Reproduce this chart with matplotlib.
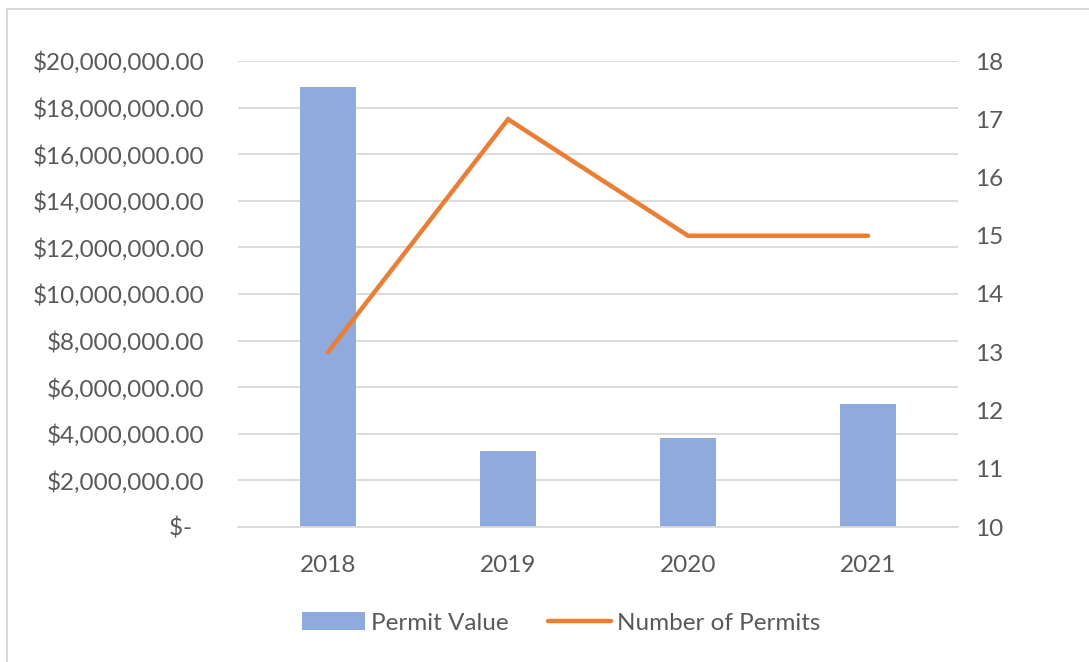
import matplotlib
matplotlib.use('Agg')
import matplotlib.pyplot as plt
from matplotlib.patches import Rectangle
from matplotlib.ticker import FuncFormatter

years = ['2018', '2019', '2020', '2021']
permit_value = [18900000, 3280000, 3820000, 5280000]
num_permits = [13, 17, 15, 15]

grey_txt = '#595959'
grid_col = '#D9D9D9'
bar_col = '#8FAADC'
line_col = '#ED7D31'

plt.rcParams['font.family'] = ['Lato', 'DejaVu Sans']
fs = 17.5

fig = plt.figure(figsize=(10.89, 6.62), dpi=100)
W, H = 1089, 662
ax = fig.add_axes([238 / W, 1 - 527 / H, (958 - 238) / W, (527 - 61) / H])

# chart border
fig.patches.append(Rectangle((7 / W, -0.1), 1.2, 1 - 9 / H + 0.1, transform=fig.transFigure,
                             fill=False, edgecolor='#D9D9D9', linewidth=1.5))

x = list(range(len(years)))
bars = ax.bar(x, permit_value, width=0.31, color=bar_col, label='Permit Value', zorder=2)
ax.set_ylim(0, 20000000)
ax.set_xlim(-0.5, 3.5)
ax.set_yticks(range(0, 20000001, 2000000))


def money(v, pos):
    if v == 0:
        return '$-  '
    return '${:,.2f}'.format(v)


ax.yaxis.set_major_formatter(FuncFormatter(money))
ax.set_xticks(x)
ax.set_xticklabels(years)
ax.grid(axis='y', color=grid_col, linewidth=1.3, zorder=0)
ax.set_axisbelow(True)
for s in ['top', 'right', 'left']:
    ax.spines[s].set_visible(False)
ax.spines['bottom'].set_color(grid_col)
ax.spines['bottom'].set_linewidth(1.3)
ax.tick_params(axis='both', length=0, colors=grey_txt, labelsize=fs)
ax.tick_params(axis='y', pad=24)
ax.tick_params(axis='x', pad=20)

ax2 = ax.twinx()
line, = ax2.plot(x, num_permits, color=line_col, linewidth=3.2, label='Number of Permits',
                 solid_capstyle='round', solid_joinstyle='miter', zorder=3)
ax2.set_ylim(10, 18)
ax2.set_yticks(range(10, 19))
for s in ax2.spines.values():
    s.set_visible(False)
ax2.tick_params(axis='y', length=0, colors=grey_txt, labelsize=fs, pad=12)

leg = fig.legend([bars, line], ['Permit Value', 'Number of Permits'], loc='center',
                 bbox_to_anchor=(561 / W, 1 - 623 / H), ncol=2, frameon=False,
                 handlelength=2.6, handleheight=0.75, handletextpad=0.25, columnspacing=1.6,
                 fontsize=fs)
for t in leg.get_texts():
    t.set_color(grey_txt)

fig.savefig('out.png', dpi=100)
